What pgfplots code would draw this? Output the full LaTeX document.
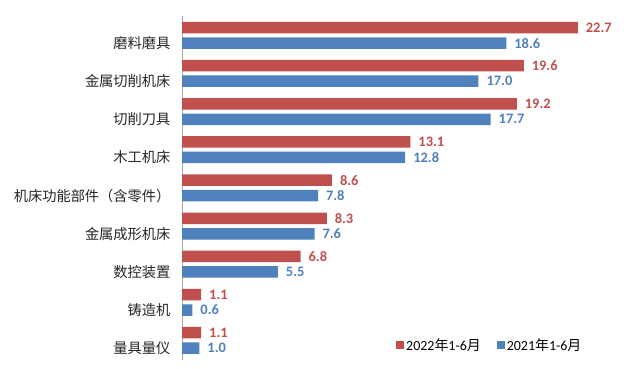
\documentclass[border=0pt]{standalone}
\usepackage{pgfplots}
\pgfplotsset{compat=1.18}
\usepackage{fontspec}
\setmainfont{Carlito}
\newfontfamily\cjk{Noto Sans CJK SC}
\definecolor{cred}{HTML}{C0504D}
\definecolor{cblue}{HTML}{4F81BD}
\definecolor{axgray}{HTML}{A6A6A6}
\begin{document}
\begin{tikzpicture}
\path[use as bounding box] (0,0) rectangle (631bp,369bp);
\begin{axis}[
  at={(182bp,9bp)}, anchor=south west,
  scale only axis, width=436bp, height=344bp,
  xmin=0, xmax=25, ymin=-0.31, ymax=8.71,
  xbar, bar width=11.5bp,
  axis x line=none,
  axis y line*=left,
  y axis line style={draw=axgray, -},
  ytick={0,...,8},
  yticklabels={量具量仪,铸造机,数控装置,金属成形机床,机床功能部件（含零件）,木工机床,切削刀具,金属切削机床,磨料磨具},
  yticklabel style={font=\cjk\fontsize{14.3}{16}\selectfont, text=black!85, xshift=-8bp},
  major tick length=0pt,
  /pgf/number format/assume math mode=true,
  nodes near coords={\pgfmathprintnumber[fixed,fixed zerofill,precision=1,assume math mode=true]{\pgfplotspointmeta}},
  nodes near coords style={font=\bfseries\fontsize{14.5}{16}\selectfont, xshift=4.5bp},
  legend style={draw=none, at={(0.706,0.044)}, anchor=center, legend columns=2,
    font=\fontsize{14}{16}\selectfont,
    /tikz/every even column/.append style={column sep=14bp}},
  legend image code/.code={\fill[#1] (0bp,-4bp) rectangle (8bp,4bp);},
]
\addplot[fill=cred, draw=none, bar shift=15.5bp, nodes near coords style={text=cred}] coordinates {
(22.7,8) (19.6,7) (19.2,6) (13.1,5) (8.6,4) (8.3,3) (6.8,2) (1.1,1) (1.1,0)};
\addplot[fill=cblue, draw=none, bar shift=0bp, nodes near coords style={text=cblue}] coordinates {
(18.6,8) (17.0,7) (17.7,6) (12.8,5) (7.8,4) (7.6,3) (5.5,2) (0.6,1) (1.0,0)};
\legend{2022{\cjk 年}1-6{\cjk 月}, 2021{\cjk 年}1-6{\cjk 月}}
\end{axis}
\end{tikzpicture}
\end{document}
